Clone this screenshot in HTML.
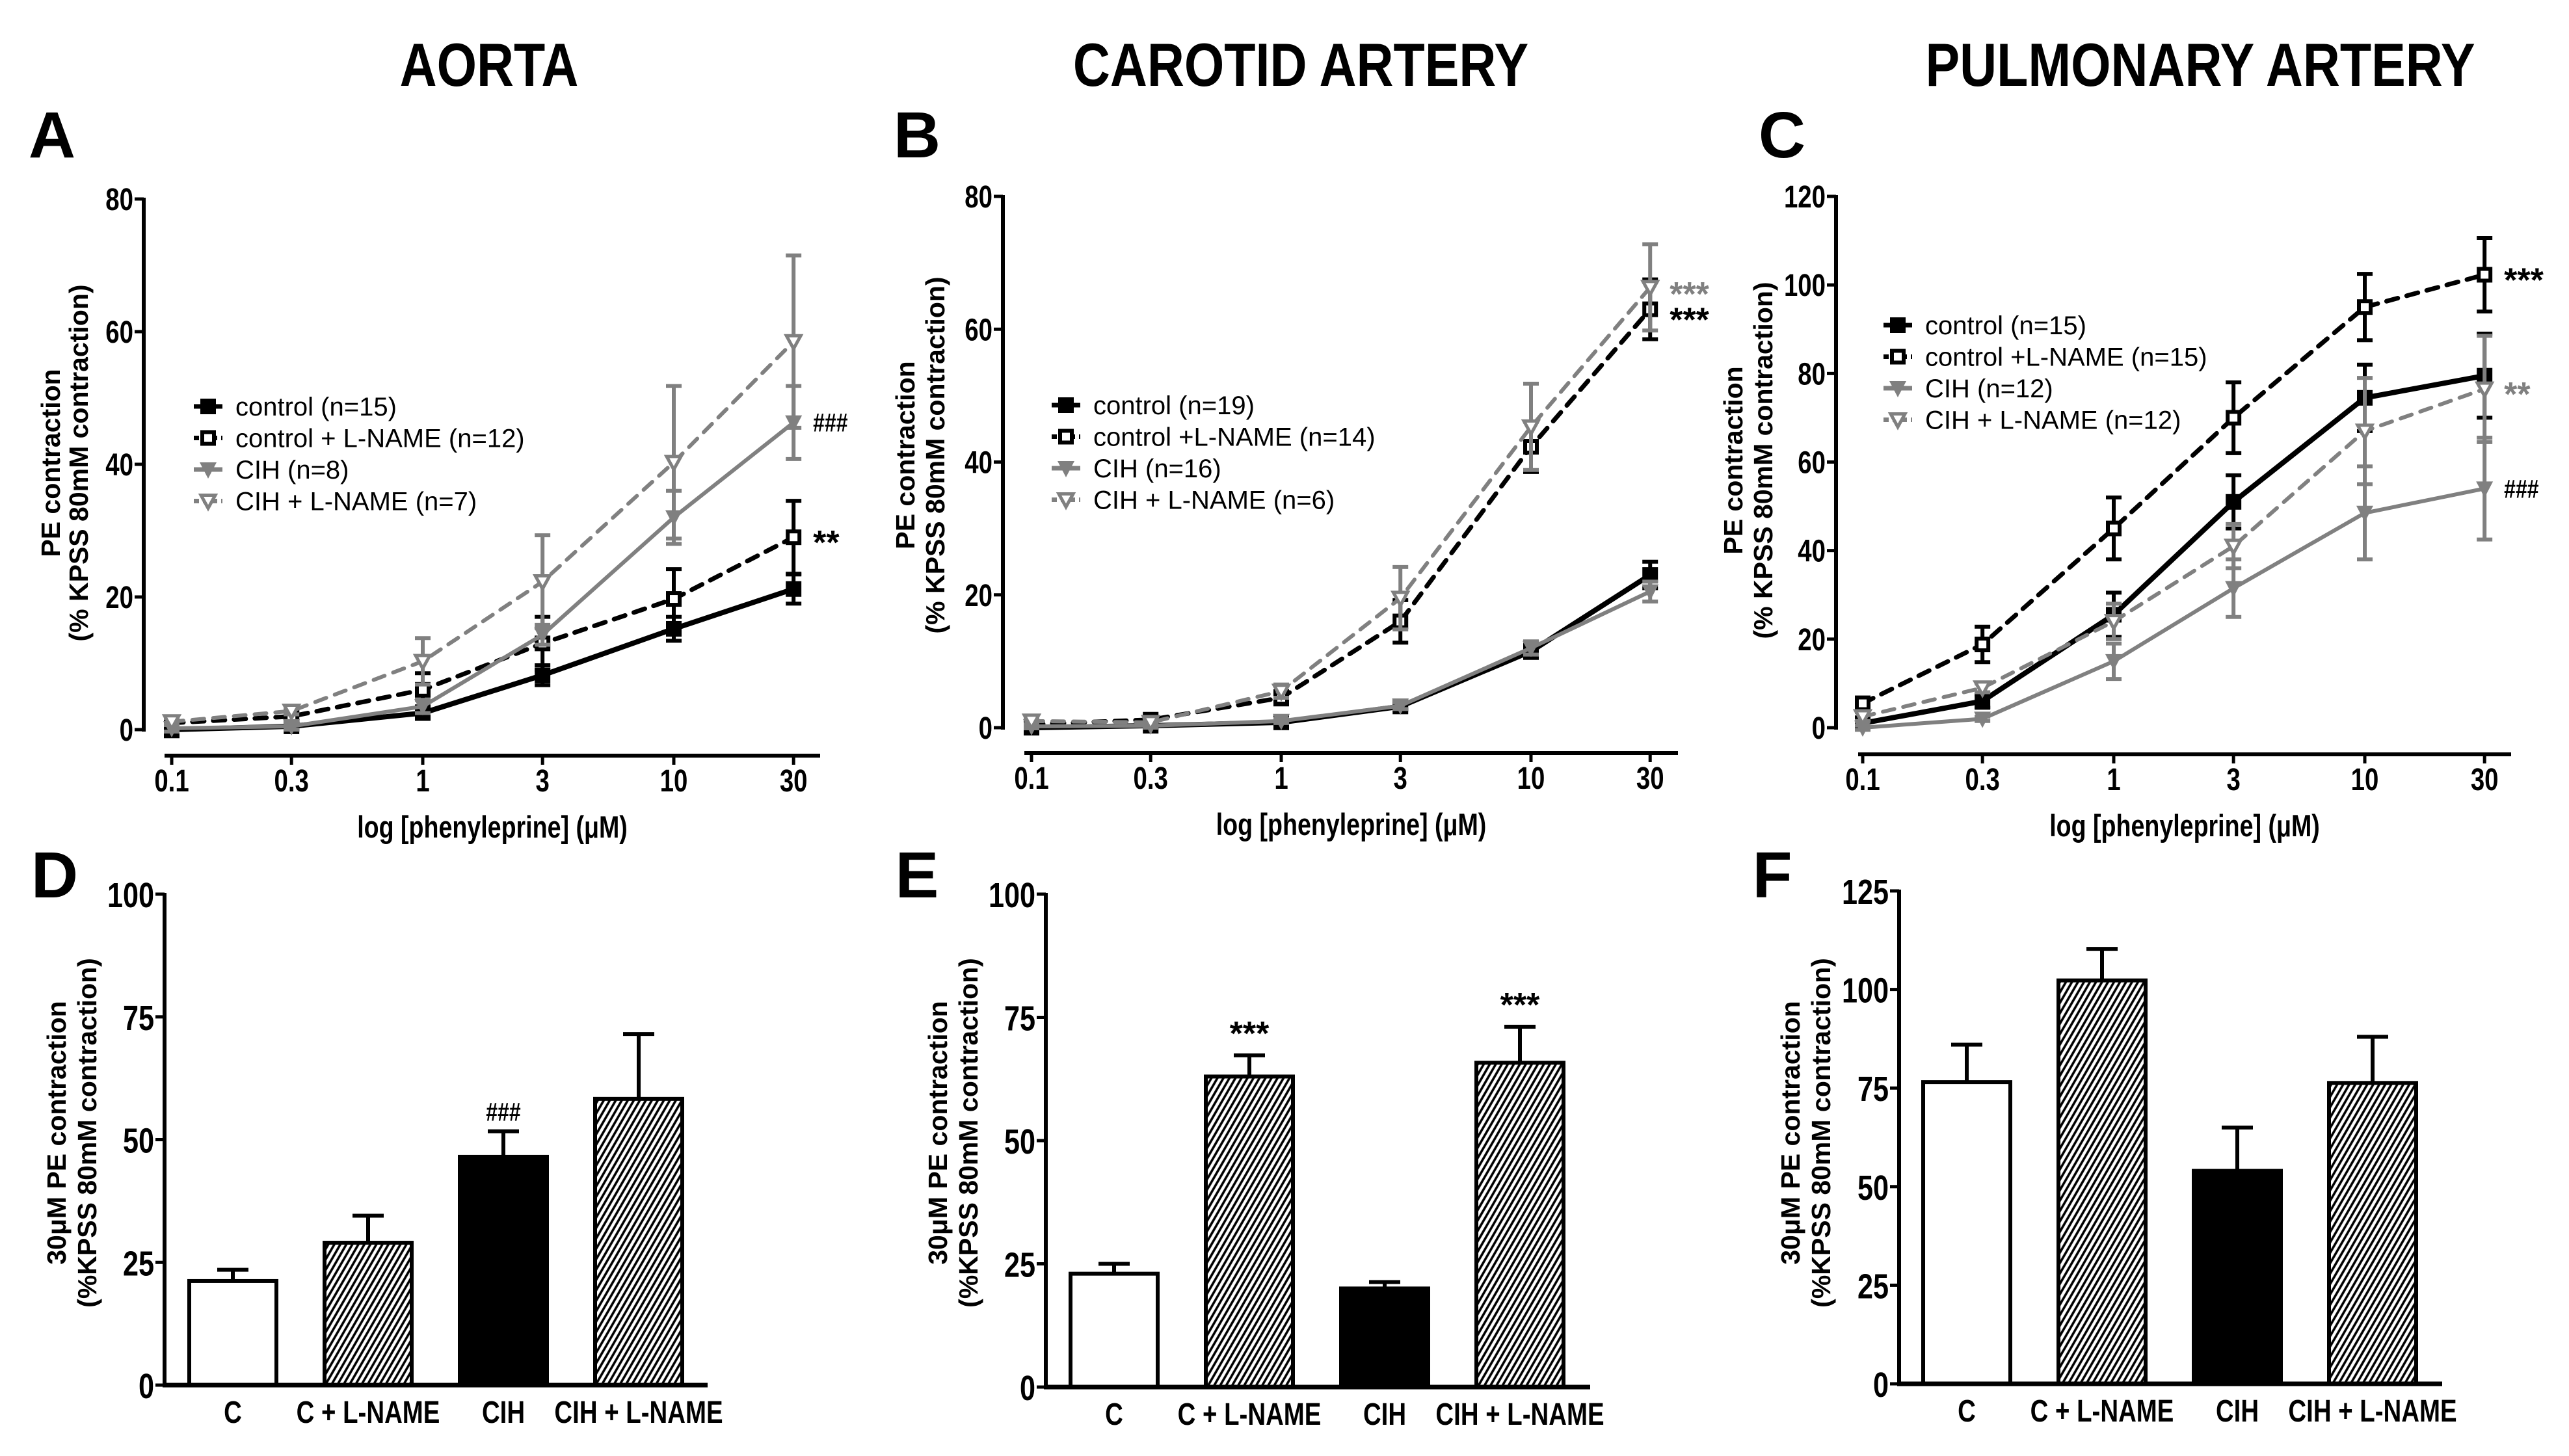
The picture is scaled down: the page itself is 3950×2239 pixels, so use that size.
<!DOCTYPE html>
<html><head><meta charset="utf-8"><style>
html,body{margin:0;padding:0;background:#fff;}
svg{display:block;}
</style></head><body>
<svg id="fig" width="3950" height="2239" viewBox="0 0 3950 2239" xmlns="http://www.w3.org/2000/svg">
<defs>
<pattern id="hatch" patternUnits="userSpaceOnUse" width="8" height="8" patternTransform="rotate(30)">
<rect width="8" height="8" fill="#fff"/><line x1="2" y1="0" x2="2" y2="8" stroke="#000" stroke-width="3.6"/>
</pattern>
</defs>
</svg>
<script>
// ---------- data ----------
const doses = [0.1, 0.3, 1, 3, 10, 30];
const seriesNames = ["control", "control + L-NAME", "CIH", "CIH + L-NAME"];
const legendA = ["control (n=15)", "control + L-NAME (n=12)", "CIH (n=8)", "CIH + L-NAME (n=7)"];
const legendB = ["control (n=19)", "control +L-NAME (n=14)", "CIH (n=16)", "CIH + L-NAME (n=6)"];
const legendC = ["control (n=15)", "control +L-NAME (n=15)", "CIH (n=12)", "CIH + L-NAME (n=12)"];
const aCtrl = [0, 0.5, 2.5, 8.2, 15.2, 21.2];
const aCtrlErr = [1, 0.5, 0.8, 1.5, 1.8, 2.2];
const aCtrlL = [1.0, 2.0, 6.0, 13, 19.7, 29];
const aCtrlLErr = [0.5, 0.8, 2.5, 4, 4.5, 5.5];
const aCih = [0.2, 0.5, 3.5, 14.3, 32, 46.3];
const aCihErr = [0.5, 0.5, 1, 1.5, 4, 5.5];
const aCihL = [1.2, 2.8, 10.3, 22.3, 40.3, 58.5];
const aCihLErr = [0.5, 0.5, 3.5, 7, 11.5, 13];
const bCtrl = [0, 0.3, 0.8, 3.2, 11.5, 23];
const bCtrlErr = [0.5, 0.3, 0.5, 0.5, 1, 2];
const bCtrlL = [0.5, 1.2, 4.5, 16, 42.3, 63];
const bCtrlLErr = [0.5, 0.5, 1, 3.2, 3.8, 4.5];
const bCih = [0.2, 0.3, 1.0, 3.3, 12, 20.5];
const bCihErr = [0.3, 0.3, 0.3, 0.5, 1, 1.5];
const bCihL = [1, 0.8, 5.5, 19.5, 45.3, 66.3];
const bCihLErr = [0.5, 0.5, 1, 4.7, 6.5, 6.5];
const cCtrl = [1, 6, 25.5, 51, 74.5, 79.5];
const cCtrlErr = [1, 1.5, 5, 6, 7.5, 9.5];
const cCtrlL = [5.5, 18.8, 45, 70, 95, 102.3];
const cCtrlLErr = [1, 4, 7, 8, 7.5, 8.3];
const cCih = [0, 2, 15, 31.5, 48.5, 54];
const cCihErr = [0.5, 0.5, 4, 6.5, 10.5, 11.5];
const cCihL = [2.5, 9, 24, 41, 67, 76.5];
const cCihLErr = [1, 1, 4, 5, 12, 12];
const yTicksAB = [0, 20, 40, 60, 80];
const yTicksC = [0, 20, 40, 60, 80, 100, 120];
const xTickLabels = ["0.1", "0.3", "1", "3", "10", "30"];
const barCats = ["C", "C + L-NAME", "CIH", "CIH + L-NAME"];
const dVals = [21.2, 29, 46.5, 58.3];
const dErr = [2.3, 5.5, 5.2, 13.2];
const eVals = [23, 63, 20, 65.8];
const eErr = [2, 4.3, 1.3, 7.3];
const fVals = [76.5, 102.3, 54, 76.3];
const fErr = [9.5, 8, 11, 11.7];
const yTicksDE = [0, 25, 50, 75, 100];
const yTicksF = [0, 25, 50, 75, 100, 125];

// ---------- helpers ----------
const NS = "http://www.w3.org/2000/svg";
const svg = document.getElementById("fig");
const GRAY = "#808080";
function mk(tag, attrs, parent) {
  const e = document.createElementNS(NS, tag);
  for (const k in attrs) e.setAttribute(k, attrs[k]);
  (parent || svg).appendChild(e);
  return e;
}
function txt(x, y, s, size, opts, parent) {
  opts = opts || {};
  const sx = opts.sx || (opts.narrow ? 0.8 : 1);
  const t = mk("text", {
    x: 0, y: 0,
    transform: "translate(" + x + "," + y + ")" + (opts.rot ? " rotate(-90)" : "") + " scale(" + sx + ",1)",
    "font-family": '"Liberation Sans", Arial, sans-serif',
    "font-size": size, "font-weight": opts.weight || "bold",
    "text-anchor": opts.anchor || "middle", fill: opts.fill || "#000"
  }, parent);
  t.textContent = s;
  return t;
}
function marker(g, kind, x, y) {
  const s = 12;
  let m;
  if (kind === 0) m = mk("rect", {x: x - s, y: y - s, width: 2 * s, height: 2 * s, fill: "#000"}, g);
  else if (kind === 1) m = mk("rect", {x: x - s + 3, y: y - s + 3, width: 2 * s - 6, height: 2 * s - 6, fill: "#fff", stroke: "#000", "stroke-width": 6}, g);
  else if (kind === 2) m = mk("polygon", {points: (x - 13) + "," + (y - 11) + " " + (x + 13) + "," + (y - 11) + " " + x + "," + (y + 14), fill: GRAY}, g);
  else m = mk("polygon", {points: (x - 11) + "," + (y - 9) + " " + (x + 11) + "," + (y - 9) + " " + x + "," + (y + 11), fill: "#fff", stroke: GRAY, "stroke-width": 5, "stroke-linejoin": "miter"}, g);
  
  
  return m;
}
const sColor = [ "#000", "#000", GRAY, GRAY ];
const sDash = [ null, "18 14", null, "18 14" ];
const sWidth = [ 8, 7, 6, 6 ];

function curvePanel(cfg) {
  const g = mk("g", {});
  
  
  const X = d => cfg.x01 + Math.log10(d / 0.1) * cfg.dec;
  const Y = v => cfg.y0 - v / cfg.yMax * (cfg.y0 - cfg.yTop);
  const ya = mk("line", {x1: cfg.ax, y1: cfg.yTop - 2, x2: cfg.ax, y2: cfg.y0 + 3, stroke: "#000", "stroke-width": 6}, g);
  
  
  cfg.yTicks.forEach(t => {
    mk("line", {x1: cfg.ax - 14, y1: Y(t), x2: cfg.ax, y2: Y(t), stroke: "#000", "stroke-width": 5}, g);
    const l = txt(cfg.ax - 16, Y(t) + 17, String(t), 48, {anchor: "end", narrow: true}, g);
    
    
  });
  const xa = mk("line", {x1: cfg.xa1, y1: cfg.xaY, x2: cfg.xa2, y2: cfg.xaY, stroke: "#000", "stroke-width": 6}, g);
  
  
  doses.forEach((d, i) => {
    mk("line", {x1: X(d), y1: cfg.xaY, x2: X(d), y2: cfg.xaY + 14, stroke: "#000", "stroke-width": 5}, g);
    const l = txt(X(d), cfg.xaY + 55, xTickLabels[i], 48, {narrow: true}, g);
    
    
  });
  const xl = txt((cfg.xa1 + cfg.xa2) / 2, cfg.xaY + 126, "log [phenyleprine] (\u03BCM)", 47, {narrow: true}, g);
  
  
  const yl1 = txt(cfg.ylx1, cfg.ylc, "PE contraction", 41, {rot: true}, g);
  
  
  const yl2 = txt(cfg.ylx2, cfg.ylc, "(% KPSS 80mM contraction)", 41, {rot: true}, g);
  
  
  cfg.series.forEach((vals, si) => {
    const errs = cfg.errs[si];
    const sg = mk("g", {}, g);
    
    
    doses.forEach((d, i) => {
      const x = X(d);
      mk("line", {x1: x, y1: Y(vals[i] - errs[i]), x2: x, y2: Y(vals[i] + errs[i]), stroke: sColor[si], "stroke-width": 6}, sg);
      [vals[i] - errs[i], vals[i] + errs[i]].forEach(v => mk("line", {x1: x - 12, y1: Y(v), x2: x + 12, y2: Y(v), stroke: sColor[si], "stroke-width": 6}, sg));
    });
    const pts = doses.map((d, i) => X(d) + "," + Y(vals[i])).join(" ");
    const pl = mk("polyline", {points: pts, fill: "none", stroke: sColor[si], "stroke-width": sWidth[si], "stroke-linecap": "round"}, sg);
    if (sDash[si]) pl.setAttribute("stroke-dasharray", sDash[si]);
    
    
    doses.forEach((d, i) => marker(sg, si, X(d), Y(vals[i])));
  });
  cfg.legend.forEach((s, i) => {
    const ly = cfg.legY + i * 48.5;
    const lg = mk("g", {}, g);
    
    
    const ln = mk("line", {x1: cfg.legX - 22, y1: ly, x2: cfg.legX + 22, y2: ly, stroke: sColor[i], "stroke-width": 7}, lg);
    if (sDash[i]) ln.setAttribute("stroke-dasharray", "8 6");
    marker(lg, i, cfg.legX, ly);
    txt(cfg.legX + 42, ly + 14, s, 40, {anchor: "start", weight: "normal"}, lg);
  });
  cfg.notes.forEach(n => {
    const t = txt(X(30) + 30, Y(n.v) + n.dy, n.s, n.size, {anchor: "start", fill: n.c, narrow: n.narrow}, g);
    
    
  });
}

function barPanel(cfg) {
  const g = mk("g", {});
  
  
  const Y = v => cfg.y0 - v / cfg.yMax * (cfg.y0 - cfg.yTop);
  const ya = mk("line", {x1: cfg.ax, y1: cfg.yTop - 2, x2: cfg.ax, y2: cfg.y0 + 3, stroke: "#000", "stroke-width": 6}, g);
  
  
  cfg.yTicks.forEach(t => {
    mk("line", {x1: cfg.ax - 14, y1: Y(t), x2: cfg.ax, y2: Y(t), stroke: "#000", "stroke-width": 5}, g);
    const l = txt(cfg.ax - 16, Y(t) + 20, String(t), 54, {anchor: "end", narrow: true}, g);
    
    
  });
  const fills = ["#fff", "url(#hatch)", "#000", "url(#hatch)"];
  cfg.vals.forEach((v, i) => {
    const cx = cfg.c0 + i * cfg.step;
    const e = cfg.errs[i];
    mk("line", {x1: cx, y1: Y(v), x2: cx, y2: Y(v + e), stroke: "#000", "stroke-width": 6}, g);
    mk("line", {x1: cx - 24, y1: Y(v + e), x2: cx + 24, y2: Y(v + e), stroke: "#000", "stroke-width": 6}, g);
    const r = mk("rect", {x: cx - 67, y: Y(v), width: 134, height: Y(0) - Y(v), fill: fills[i], stroke: "#000", "stroke-width": 6}, g);
    
    
    const l = txt(cx, cfg.y0 + 58, barCats[i], 48, {narrow: true}, g);
    
    
    if (cfg.notes[i]) {
      const t = txt(cx, Y(v + e) - 16, cfg.notes[i], cfg.notes[i][0] === "#" ? 40 : 52, {narrow: cfg.notes[i][0] === "#"}, g);
      
      
    }
  });
  const xa = mk("line", {x1: cfg.ax - 3, y1: cfg.y0, x2: cfg.xa2, y2: cfg.y0, stroke: "#000", "stroke-width": 7}, g);
  
  
  const yl1 = txt(cfg.ylx1, cfg.ylc, "30\u03BCM PE contraction", 41, {rot: true}, g);
  
  
  const yl2 = txt(cfg.ylx2, cfg.ylc, "(%KPSS 80mM contraction)", 41, {rot: true}, g);
  
  
}

[["AORTA", 752, "title-aorta"], ["CAROTID ARTERY", 2000, "title-carotid"], ["PULMONARY ARTERY", 3383, "title-pulmonary"]].forEach(a => {
  const t = txt(a[1], 132, a[0], 94, {sx: 0.84});
  
  
});
[["A", 80, 242], ["B", 1410, 242], ["C", 2740, 242], ["D", 84, 1380], ["E", 1410, 1380], ["F", 2725, 1380]].forEach(a => {
  const t = txt(a[1], a[2], a[0], 100, {});
  
  
});

curvePanel({name: "panel-a-aorta-curve", ax: 221, yTop: 306, y0: 1122, yMax: 80, yTicks: yTicksAB,
  xaY: 1162, xa1: 253, xa2: 1261, x01: 264, dec: 386, ylx1: 92, ylx2: 135, ylc: 712,
  series: [aCtrl, aCtrlL, aCih, aCihL], errs: [aCtrlErr, aCtrlLErr, aCihErr, aCihLErr],
  legend: legendA, legX: 320, legY: 625,
  notes: [{v: 46.3, dy: 14, s: "###", c: "#000", size: 40, narrow: true}, {v: 29, dy: 26, s: "**", c: "#000", size: 52}]});
curvePanel({name: "panel-b-carotid-curve", ax: 1542, yTop: 302, y0: 1119, yMax: 80, yTicks: yTicksAB,
  xaY: 1158, xa1: 1575, xa2: 2580, x01: 1586, dec: 384, ylx1: 1406, ylx2: 1452, ylc: 700,
  series: [bCtrl, bCtrlL, bCih, bCihL], errs: [bCtrlErr, bCtrlLErr, bCihErr, bCihLErr],
  legend: legendB, legX: 1639, legY: 623,
  notes: [{v: 66.3, dy: 28, s: "***", c: GRAY, size: 52}, {v: 63, dy: 34, s: "***", c: "#000", size: 52}]});
curvePanel({name: "panel-c-pulmonary-curve", ax: 2823, yTop: 302, y0: 1119, yMax: 120, yTicks: yTicksC,
  xaY: 1160, xa1: 2857, xa2: 3861, x01: 2864, dec: 386, ylx1: 2679, ylx2: 2725, ylc: 708,
  series: [cCtrl, cCtrlL, cCih, cCihL], errs: [cCtrlErr, cCtrlLErr, cCihErr, cCihLErr],
  legend: legendC, legX: 2918, legY: 500,
  notes: [{v: 102.3, dy: 26, s: "***", c: "#000", size: 52}, {v: 76.5, dy: 26, s: "**", c: GRAY, size: 52}, {v: 54, dy: 14, s: "###", c: "#000", size: 40, narrow: true}]});

barPanel({name: "panel-d-aorta-bars", ax: 253, yTop: 1375, y0: 2130, yMax: 100, yTicks: yTicksDE, xa2: 1088,
  c0: 358, step: 208, vals: dVals, errs: dErr, notes: [null, null, "###", null], ylx1: 101, ylx2: 148, ylc: 1742});
barPanel({name: "panel-e-carotid-bars", ax: 1608, yTop: 1375, y0: 2133, yMax: 100, yTicks: yTicksDE, xa2: 2445,
  c0: 1713, step: 208, vals: eVals, errs: eErr, notes: [null, "***", null, "***"], ylx1: 1456, ylx2: 1503, ylc: 1742});
barPanel({name: "panel-f-pulmonary-bars", ax: 2920, yTop: 1370, y0: 2128, yMax: 125, yTicks: yTicksF, xa2: 3755,
  c0: 3024, step: 208, vals: fVals, errs: fErr, notes: [null, null, null, null], ylx1: 2767, ylx2: 2814, ylc: 1742});
</script>
</body></html>
